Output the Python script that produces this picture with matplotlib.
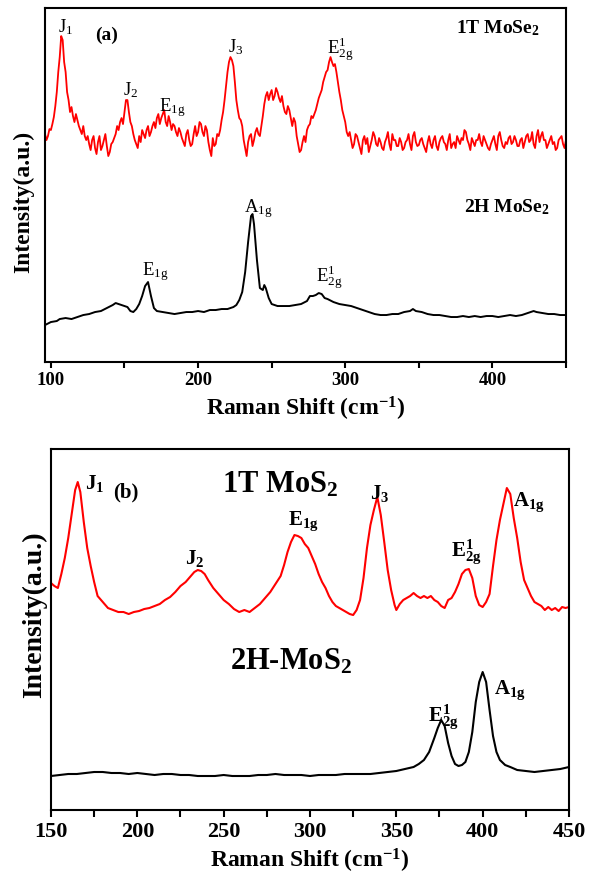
"""
Raman spectra of 1T/2H MoSe2 (a) and 1T/2H MoS2 (b).
"""
import matplotlib
matplotlib.use("Agg")
import matplotlib.pyplot as plt
from matplotlib.ticker import MultipleLocator
import numpy as np

plt.rcParams['font.family'] = ['Liberation Serif', 'DejaVu Serif']
plt.rcParams['mathtext.fontset'] = 'custom'
plt.rcParams['mathtext.rm'] = 'Liberation Serif'
plt.rcParams['mathtext.it'] = 'Liberation Serif:italic'
plt.rcParams['mathtext.bf'] = 'Liberation Serif:bold'

# ---- panel (a): MoSe2, intensity in arbitrary units
shift_1t_mose2 = np.arange(96, 451, 1)
int_1t_mose2 = [
    228, 222, 226, 233, 232, 238, 245, 256, 270, 290,
    305, 326, 322, 300, 290, 270, 262, 250, 255, 246,
    240, 248, 242, 236, 232, 228, 236, 226, 222, 226,
    218, 212, 222, 226, 214, 208, 220, 226, 212, 216,
    222, 228, 216, 206, 210, 218, 220, 224, 228, 236,
    232, 240, 244, 238, 250, 262, 262, 250, 240, 236,
    228, 222, 218, 214, 226, 220, 232, 228, 224, 232,
    236, 226, 230, 236, 240, 234, 244, 248, 238, 244,
    248, 252, 240, 236, 246, 240, 232, 238, 236, 230,
    226, 234, 230, 224, 220, 216, 228, 232, 222, 216,
    218, 228, 236, 226, 230, 240, 238, 230, 226, 236,
    232, 220, 212, 206, 224, 216, 218, 228, 226, 232,
    242, 250, 262, 276, 290, 300, 305, 302, 296, 280,
    262, 252, 244, 242, 236, 222, 214, 206, 220, 226,
    228, 216, 222, 230, 234, 228, 226, 236, 246, 258,
    266, 270, 262, 268, 272, 262, 266, 274, 270, 264,
    260, 266, 256, 250, 248, 256, 252, 244, 236, 244,
    240, 226, 218, 210, 212, 220, 226, 220, 232, 236,
    238, 246, 244, 248, 252, 258, 264, 268, 272, 280,
    285, 290, 292, 300, 305, 300, 296, 298, 290, 280,
    270, 262, 252, 246, 240, 230, 226, 230, 222, 214,
    218, 228, 226, 220, 214, 208, 222, 226, 218, 224,
    210, 216, 222, 230, 226, 218, 216, 224, 220, 214,
    212, 220, 224, 230, 218, 212, 228, 222, 222, 216,
    216, 224, 220, 212, 214, 220, 222, 228, 218, 212,
    226, 230, 220, 216, 217, 222, 224, 218, 214, 210,
    220, 226, 218, 214, 222, 226, 216, 212, 220, 224,
    226, 220, 218, 212, 222, 228, 214, 218, 220, 214,
    226, 222, 218, 224, 222, 232, 230, 222, 218, 212,
    224, 220, 216, 222, 222, 228, 220, 216, 226, 222,
    218, 214, 212, 218, 222, 226, 218, 212, 226, 230,
    222, 216, 214, 220, 218, 224, 226, 218, 220, 226,
    222, 216, 216, 222, 224, 214, 220, 226, 228, 220,
    222, 230, 218, 214, 226, 232, 220, 226, 230, 222,
    222, 214, 218, 222, 226, 218, 220, 212, 214, 222,
    224, 226, 218, 214, 222,
]

shift_2h_mose2 = [
    96, 100, 104, 106, 110, 114, 118, 122, 126, 130, 134, 138, 142, 144, 146, 148,
    150, 152, 154, 156, 158, 160, 162, 164, 166, 168, 170, 172, 176, 180, 184, 188,
    192, 196, 200, 204, 208, 212, 216, 220, 224, 226, 228, 230, 232, 234, 236, 237,
    238, 240, 242, 244, 245, 246, 248, 250, 254, 258, 262, 266, 270, 274, 276, 278,
    280, 282, 284, 286, 288, 292, 296, 300, 304, 308, 312, 316, 320, 324, 328, 332,
    336, 340, 344, 346, 348, 352, 356, 360, 364, 368, 372, 376, 380, 384, 388, 392,
    396, 400, 404, 408, 412, 416, 420, 424, 428, 430, 434, 438, 442, 446, 450,
]
int_2h_mose2 = [
    37, 40, 41, 43, 44, 43, 45, 47, 48, 50, 51, 54, 57, 59, 58, 57,
    56, 55, 51, 50, 53, 58, 66, 76, 80, 66, 54, 51, 50, 49, 48, 49,
    50, 50, 51, 50, 52, 52, 53, 53, 55, 57, 62, 70, 90, 120, 146, 148,
    138, 102, 74, 72, 77, 74, 64, 58, 56, 56, 56, 57, 58, 61, 66, 66,
    67, 69, 68, 64, 63, 60, 58, 57, 56, 54, 52, 50, 48, 47, 47, 48,
    48, 50, 51, 53, 51, 50, 48, 47, 47, 46, 45, 45, 46, 45, 46, 45,
    46, 46, 45, 46, 47, 46, 47, 49, 51, 50, 49, 48, 48, 47, 47,
]

# ---- panel (b): MoS2
shift_1t_mos2 = [
    150, 152, 154, 156, 158, 160, 162, 164, 165.5, 167, 169, 171, 173, 175, 177, 180,
    183, 186, 189, 192, 195, 198, 201, 204, 207, 210, 213, 216, 219, 222, 225, 228,
    231, 233, 235, 237, 239, 241, 244, 247, 250, 253, 256, 259, 262, 265, 268, 271,
    274, 277, 280, 283, 285, 287, 289, 291, 293, 295, 297, 299, 301, 303, 305, 307,
    309, 311, 313, 315, 317, 319, 321, 323, 325, 327, 329, 331, 333, 335, 337, 339,
    341, 343, 345, 347, 349, 350, 352, 354, 356, 358, 360, 362, 364, 366, 368, 370,
    372, 374, 376, 378, 380, 382, 384, 386, 388, 390, 392, 394, 396, 398, 400, 402,
    404, 406, 408, 410, 412, 414, 416, 418, 420, 422, 424, 426, 428, 430, 432, 434,
    436, 438, 440, 442, 444, 446, 448, 450,
]
int_1t_mos2 = [
    227, 224, 222, 236, 252, 272, 296, 320, 328, 318, 288, 262, 244, 228, 214, 208,
    202, 200, 198, 198, 196, 198, 199, 201, 202, 204, 206, 210, 213, 218, 224, 228,
    234, 238, 240, 239, 236, 230, 222, 216, 210, 206, 201, 198, 200, 198, 202, 206,
    212, 218, 226, 234, 245, 258, 268, 275, 274, 272, 266, 262, 254, 246, 236, 228,
    222, 214, 208, 204, 202, 200, 198, 196, 195, 200, 210, 232, 262, 285, 300, 313,
    295, 268, 240, 220, 205, 200, 206, 210, 212, 214, 217, 214, 212, 214, 212, 214,
    210, 208, 204, 202, 210, 212, 218, 226, 236, 240, 241, 232, 214, 205, 203, 208,
    216, 244, 270, 290, 306, 322, 316, 292, 272, 248, 230, 222, 214, 208, 206, 204,
    200, 203, 200, 202, 199, 203, 202, 203,
]

shift_2h_mos2 = [
    150, 155, 160, 165, 170, 175, 180, 185, 190, 195, 200, 205, 210, 215, 220, 225,
    230, 235, 240, 245, 250, 255, 260, 265, 270, 275, 280, 285, 290, 295, 300, 305,
    310, 315, 320, 325, 330, 335, 340, 345, 350, 355, 360, 363, 366, 369, 372, 374,
    376, 378, 380, 382, 384, 386, 388, 390, 392, 394, 396, 398, 400, 402, 404, 406,
    408, 410, 413, 416, 420, 425, 430, 435, 440, 445, 450,
]
int_2h_mos2 = [
    34, 35, 36, 36, 37, 38, 38, 37, 37, 36, 37, 36, 35, 36, 36, 35,
    35, 34, 34, 34, 35, 34, 34, 34, 35, 35, 36, 35, 35, 35, 34, 35,
    35, 35, 36, 36, 36, 36, 37, 38, 39, 41, 43, 46, 50, 58, 72, 82,
    90, 84, 67, 54, 46, 44, 45, 48, 58, 78, 108, 128, 138, 128, 100, 74,
    58, 50, 45, 43, 40, 39, 38, 39, 40, 41, 43,
]

fig = plt.figure(figsize=(5.9, 8.77), dpi=100)

# Panel (a)
ax = fig.add_axes([0.0763, 0.5872, 0.883, 0.4036])
ax.plot(shift_1t_mose2, int_1t_mose2, color="#ff0000", lw=1.3)
ax.plot(shift_2h_mose2, int_2h_mose2, color="black", lw=1.4)
ax.set_xlim(96, 450)
ax.set_ylim(0, 354)
ax.set_yticks([])
ax.xaxis.set_major_locator(MultipleLocator(100))
ax.xaxis.set_minor_locator(MultipleLocator(50))
ax.tick_params(axis="x", which="both", direction="out", length=4, width=1.5, labelsize=13.5)
for lab in ax.get_xticklabels():
    lab.set_fontweight("bold")
for sp in ax.spines.values():
    sp.set_linewidth(1.5)
ax.set_xlabel("Raman Shift (cm$^{\\mathbf{-1}}$)", fontsize=17, fontweight="bold", labelpad=4)
ax.set_ylabel("Intensity(a.u.)", fontsize=17, fontweight="bold")
ax.yaxis.set_label_coords(-0.021, 0.452)

lab_a = dict(fontsize=13.5, ha="center", va="center")
ax.text(110.3, 335, r"J$_1$", **lab_a)
ax.text(138, 327, "(a)", fontsize=14, fontweight="bold", ha="center", va="center")
ax.text(154.4, 272, r"J$_2$", **lab_a)
ax.text(182.3, 255, r"E$_\mathrm{1g}$", **lab_a)
ax.text(225.8, 315, r"J$_3$", **lab_a)
ax.text(296.4, 313, r"E$^1_\mathrm{2g}$", **lab_a)
ax.text(403.8, 334, r"1T MoSe$_\mathbf{2}$", fontsize=14, fontweight="bold", ha="center", va="center")
ax.text(410, 155, r"2H MoSe$_\mathbf{2}$", fontsize=14, fontweight="bold", ha="center", va="center")
ax.text(170.7, 90, r"E$_\mathrm{1g}$", **lab_a)
ax.text(240.7, 153, r"A$_\mathrm{1g}$", **lab_a)
ax.text(289, 85, r"E$^1_\mathrm{2g}$", **lab_a)

# Panel (b)
ax = fig.add_axes([0.0864, 0.0764, 0.878, 0.4116])
ax.plot(shift_1t_mos2, int_1t_mos2, color="#ff0000", lw=1.5)
ax.plot(shift_2h_mos2, int_2h_mos2, color="black", lw=1.5)
ax.set_xlim(150, 450)
ax.set_ylim(0, 361)
ax.set_yticks([])
ax.xaxis.set_major_locator(MultipleLocator(50))
ax.xaxis.set_minor_locator(MultipleLocator(25))
ax.tick_params(axis="x", which="both", direction="out", length=5, width=1.5, labelsize=16)
for lab in ax.get_xticklabels():
    lab.set_fontweight("bold")
for sp in ax.spines.values():
    sp.set_linewidth(1.5)
ax.set_xlabel("Raman Shift (cm$^{\\mathbf{-1}}$)", fontsize=17, fontweight="bold", labelpad=4)
ax.set_ylabel("Intensity(a.u.)", fontsize=20, fontweight="bold")
ax.yaxis.set_label_coords(-0.008, 0.54)

lab_b = dict(fontsize=15, fontweight="bold", ha="center", va="center")
ax.text(175.5, 327, r"J$_\mathbf{1}$", **lab_b)
ax.text(193.4, 318, "(b)", **lab_b)
ax.text(282.6, 325, r"1T MoS$_\mathbf{2}$", fontsize=22, fontweight="bold", ha="center", va="center")
ax.text(233.4, 252, r"J$_\mathbf{2}$", **lab_b)
ax.text(296, 289, r"E$_\mathbf{1g}$", **lab_b)
ax.text(340.6, 317, r"J$_\mathbf{3}$", **lab_b)
ax.text(390.4, 258, r"E$^\mathbf{1}_\mathbf{2g}$", **lab_b)
ax.text(426.9, 308, r"A$_\mathbf{1g}$", **lab_b)
ax.text(289, 148, r"2H-MoS$_\mathbf{2}$", fontsize=22, fontweight="bold", ha="center", va="center")
ax.text(377, 93, r"E$^\mathbf{1}_\mathbf{2g}$", **lab_b)
ax.text(415.9, 120, r"A$_\mathbf{1g}$", **lab_b)

plt.savefig("out.png", dpi=100)
plt.close()
